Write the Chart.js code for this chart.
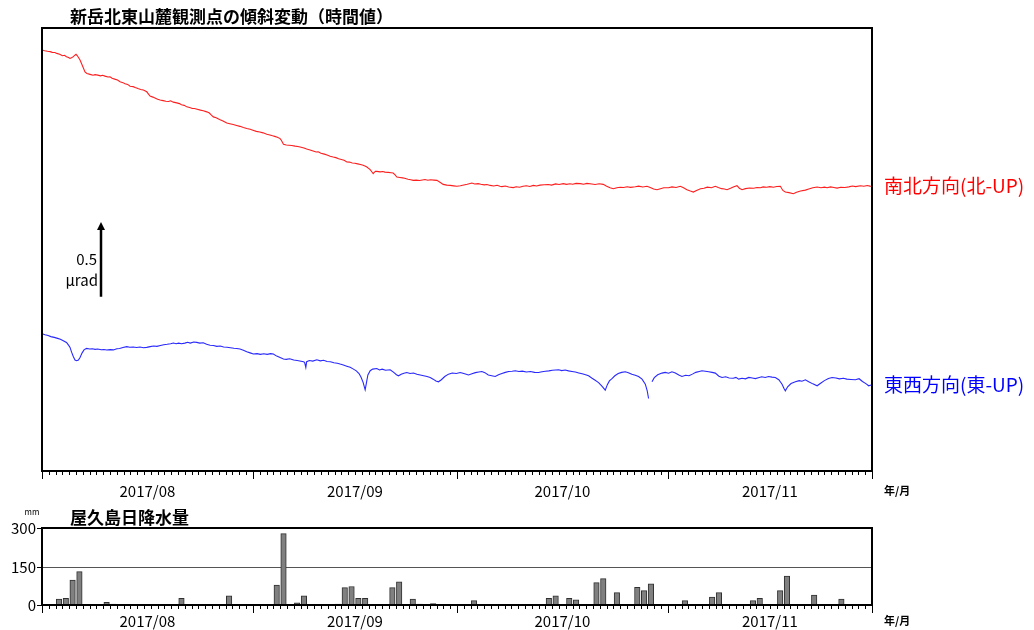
<!DOCTYPE html>
<html>
<head>
<meta charset="utf-8">
<script src="https://cdn.jsdelivr.net/npm/chart.js@4/dist/chart.umd.min.js"></script>
<style>
  body { margin: 0; background: #fff; }
  canvas { position: absolute; left: 0; }
  #tilt { top: 0; }
  #rain { top: 500px; }
</style>
</head>
<body>
<canvas id="tilt" width="1034" height="500"></canvas>
<canvas id="rain" width="1034" height="130"></canvas>
<script>
// x = days since 2017/08/01 00:00, y = tilt in micro-radian (relative)
const monthLabels = ['2017/08', '2017/09', '2017/10', '2017/11'];
const monthStarts = [0, 31, 61, 92, 122];

// 南北方向 [day, μrad]
const nsReadings = [
  [0, 2.851], [0.4, 2.846], [0.8, 2.842], [1.2, 2.840], [1.5, 2.835], [1.9, 2.834], [2.16, 2.828], [2.6, 2.822],
  [3.0, 2.812], [3.3, 2.815], [3.6, 2.805], [3.9, 2.800], [4.12, 2.794], [4.4, 2.800], [4.6, 2.806], [4.8, 2.815],
  [5.0, 2.822], [5.2, 2.812], [5.59, 2.783], [5.9, 2.750], [6.32, 2.703], [6.6, 2.692], [7.06, 2.686], [7.5, 2.680],
  [7.8, 2.684], [8.2, 2.681], [8.6, 2.676], [8.9, 2.680], [9.26, 2.674], [9.7, 2.668], [10.0, 2.670], [10.3, 2.660],
  [10.8, 2.652], [11.1, 2.648], [11.47, 2.636], [11.9, 2.630], [12.2, 2.622], [12.6, 2.618], [12.94, 2.606], [13.4, 2.603],
  [13.7, 2.597], [14.1, 2.590], [14.5, 2.584], [14.9, 2.580], [15.4, 2.568], [15.6, 2.556], [15.88, 2.539], [16.3, 2.532],
  [16.6, 2.526], [17.0, 2.518], [17.35, 2.512], [17.8, 2.508], [18.2, 2.504], [18.6, 2.502], [18.9, 2.507], [19.3, 2.498],
  [19.81, 2.493], [20.2, 2.488], [20.5, 2.480], [20.9, 2.476], [21.28, 2.466], [21.7, 2.462], [22.1, 2.455], [22.4, 2.455],
  [22.8, 2.450], [23.3, 2.444], [23.7, 2.440], [24.22, 2.432], [24.6, 2.424], [24.9, 2.410], [25.19, 2.398], [25.6, 2.392],
  [26.1, 2.380], [26.6, 2.370], [27.16, 2.357], [27.6, 2.352], [28.1, 2.346], [28.6, 2.340], [29.1, 2.334], [29.6, 2.326],
  [30.1, 2.319], [30.6, 2.314], [31.0, 2.308], [31.5, 2.300], [32.0, 2.296], [32.5, 2.290], [33.04, 2.281], [33.5, 2.276],
  [33.9, 2.270], [34.2, 2.266], [34.6, 2.260], [35.0, 2.251], [35.2, 2.238], [35.49, 2.213], [35.9, 2.208], [36.3, 2.206],
  [36.7, 2.204], [37.2, 2.200], [37.6, 2.198], [37.94, 2.194], [38.5, 2.188], [38.9, 2.180], [39.4, 2.174], [39.85, 2.167],
  [40.3, 2.160], [40.6, 2.162], [41.0, 2.152], [41.5, 2.146], [41.9, 2.140], [42.35, 2.131], [42.8, 2.126], [43.2, 2.122],
  [43.6, 2.115], [44.0, 2.110], [44.4, 2.104], [44.81, 2.093], [45.2, 2.092], [45.6, 2.086], [46.0, 2.084], [46.4, 2.080],
  [46.8, 2.076], [47.21, 2.070], [47.7, 2.060], [48.24, 2.041], [48.5, 2.025], [48.68, 2.014], [49.0, 2.030], [49.22, 2.029],
  [49.7, 2.026], [50.1, 2.028], [50.4, 2.024], [50.9, 2.022], [51.3, 2.020], [51.62, 2.018], [51.9, 2.005], [52.16, 1.991],
  [52.6, 1.988], [53.0, 1.985], [53.3, 1.982], [53.8, 1.976], [54.2, 1.972], [54.56, 1.968], [55.0, 1.970], [55.5, 1.967],
  [55.9, 1.971], [56.3, 1.974], [56.7, 1.969], [57.1, 1.972], [57.6, 1.970], [58.04, 1.968], [58.5, 1.955], [58.97, 1.941],
  [59.5, 1.936], [60.0, 1.934], [60.5, 1.931], [60.99, 1.928], [61.5, 1.932], [62.0, 1.937], [62.5, 1.942], [63.19, 1.950],
  [63.6, 1.944], [64.1, 1.946], [64.5, 1.942], [65.0, 1.938], [65.4, 1.940], [65.88, 1.934], [66.4, 1.930], [66.9, 1.935],
  [67.3, 1.928], [67.6, 1.926], [68.1, 1.930], [68.6, 1.923], [69.26, 1.919], [69.7, 1.925], [70.2, 1.922], [70.7, 1.928],
  [71.2, 1.932], [71.7, 1.927], [72.21, 1.934], [72.7, 1.930], [73.2, 1.936], [73.8, 1.938], [74.4, 1.940], [74.9, 1.936],
  [75.5, 1.944], [76.0, 1.940], [76.62, 1.946], [77.1, 1.941], [77.6, 1.945], [78.0, 1.942], [78.5, 1.948], [79.12, 1.946],
  [79.6, 1.942], [80.1, 1.948], [80.8, 1.944], [81.3, 1.940], [81.9, 1.945], [82.5, 1.941], [83.0, 1.928], [83.5, 1.918],
  [83.97, 1.912], [84.5, 1.918], [85.0, 1.922], [85.5, 1.920], [86.0, 1.925], [86.5, 1.921], [87.2, 1.925], [87.7, 1.929],
  [88.3, 1.923], [88.93, 1.928], [89.4, 1.920], [89.9, 1.910], [90.4, 1.905], [90.9, 1.912], [91.4, 1.918], [92.1, 1.918],
  [92.6, 1.924], [93.2, 1.920], [93.82, 1.928], [94.3, 1.918], [94.8, 1.905], [95.3, 1.896], [95.74, 1.889], [96.2, 1.900],
  [96.8, 1.912], [97.3, 1.915], [97.8, 1.922], [98.4, 1.918], [98.97, 1.928], [99.4, 1.920], [99.9, 1.912], [100.3, 1.910],
  [100.69, 1.905], [101.2, 1.914], [101.7, 1.925], [102.16, 1.932], [102.5, 1.915], [102.9, 1.905], [103.4, 1.912], [104.0, 1.916],
  [104.6, 1.915], [105.1, 1.920], [105.6, 1.918], [106.0, 1.924], [106.5, 1.922], [107.0, 1.926], [107.5, 1.922], [108.0, 1.927],
  [108.53, 1.928], [108.9, 1.900], [109.26, 1.889], [109.8, 1.885], [110.44, 1.878], [110.9, 1.888], [111.5, 1.896], [112.2, 1.902],
  [112.7, 1.910], [113.3, 1.918], [113.93, 1.923], [114.5, 1.918], [115.0, 1.922], [115.4, 1.918], [115.9, 1.924], [116.4, 1.920],
  [116.87, 1.916], [117.4, 1.922], [118.0, 1.920], [118.6, 1.924], [119.1, 1.930], [119.6, 1.926], [120.29, 1.932], [120.8, 1.928],
  [121.3, 1.933], [121.7, 1.929], [122, 1.928]
];

// 東西方向 [day, μrad]; null = missing hours
const ewReadings = [
  [0, 0.930], [0.44, 0.923], [0.9, 0.918], [1.3, 0.910], [1.8, 0.905], [2.3, 0.898], [2.7, 0.892], [3.13, 0.882],
  [3.6, 0.870], [3.9, 0.852], [4.12, 0.837], [4.35, 0.805], [4.6, 0.775], [4.85, 0.752], [5.1, 0.747], [5.35, 0.752],
  [5.59, 0.769], [5.9, 0.800], [6.2, 0.822], [6.57, 0.830], [7.0, 0.826], [7.4, 0.828], [7.8, 0.824], [8.2, 0.826],
  [8.7, 0.821], [9.1, 0.823], [9.51, 0.819], [10.0, 0.822], [10.5, 0.820], [11.0, 0.828], [11.4, 0.830], [11.9, 0.836],
  [12.46, 0.842], [12.9, 0.838], [13.4, 0.840], [13.9, 0.836], [14.4, 0.840], [14.9, 0.835], [15.4, 0.837], [15.9, 0.842],
  [16.4, 0.846], [16.9, 0.844], [17.4, 0.850], [17.9, 0.855], [18.4, 0.858], [18.9, 0.862], [19.31, 0.867], [19.7, 0.862],
  [20.1, 0.866], [20.5, 0.862], [21.0, 0.866], [21.4, 0.872], [21.8, 0.866], [22.3, 0.874], [22.75, 0.871], [23.2, 0.866],
  [23.7, 0.868], [24.2, 0.858], [24.7, 0.852], [25.2, 0.850], [25.69, 0.844], [26.2, 0.846], [26.7, 0.840], [27.2, 0.838],
  [27.7, 0.835], [28.2, 0.831], [28.63, 0.830], [29.1, 0.826], [29.6, 0.818], [30.1, 0.808], [30.6, 0.800], [31.07, 0.792],
  [31.6, 0.795], [32.1, 0.790], [32.6, 0.794], [33.1, 0.790], [33.6, 0.795], [34.01, 0.792], [34.5, 0.778], [35.0, 0.768],
  [35.49, 0.758], [35.9, 0.756], [36.4, 0.760], [37.0, 0.752], [37.5, 0.748], [37.9, 0.745], [38.43, 0.740], [38.6, 0.736],
  [38.78, 0.701], [38.9, 0.740], [39.3, 0.748], [39.8, 0.744], [40.4, 0.753], [40.9, 0.746], [41.4, 0.750], [41.9, 0.742],
  [42.4, 0.740], [42.9, 0.733], [43.4, 0.730], [43.82, 0.724], [44.3, 0.718], [44.8, 0.710], [45.3, 0.702], [45.78, 0.690],
  [46.2, 0.678], [46.6, 0.660], [46.9, 0.635], [47.2, 0.600], [47.5, 0.550], [47.7, 0.600], [47.9, 0.650], [48.24, 0.679],
  [48.6, 0.690], [49.22, 0.694], [49.6, 0.684], [50.0, 0.690], [50.5, 0.682], [51.18, 0.686], [51.7, 0.668], [52.1, 0.652],
  [52.4, 0.645], [52.8, 0.655], [53.2, 0.662], [53.63, 0.667], [54.1, 0.660], [54.6, 0.664], [55.1, 0.655], [55.6, 0.650],
  [56.1, 0.645], [56.6, 0.640], [57.06, 0.633], [57.5, 0.622], [57.9, 0.610], [58.28, 0.604], [58.7, 0.618], [59.2, 0.640],
  [59.75, 0.656], [60.3, 0.664], [60.9, 0.660], [61.47, 0.667], [62.0, 0.660], [62.69, 0.650], [63.2, 0.658], [63.7, 0.666],
  [64.2, 0.670], [64.66, 0.674], [65.1, 0.666], [65.6, 0.650], [66.1, 0.645], [66.62, 0.640], [67.1, 0.652], [67.6, 0.660],
  [68.1, 0.668], [68.6, 0.674], [69.1, 0.676], [69.56, 0.679], [70.1, 0.674], [70.6, 0.676], [71.2, 0.670], [71.8, 0.674],
  [72.4, 0.668], [72.99, 0.667], [73.5, 0.672], [74.0, 0.676], [74.5, 0.678], [75.0, 0.682], [75.5, 0.684], [75.93, 0.686],
  [76.4, 0.680], [76.9, 0.684], [77.4, 0.678], [77.9, 0.674], [78.4, 0.670], [78.9, 0.664], [79.4, 0.658], [79.9, 0.652],
  [80.34, 0.645], [80.8, 0.630], [81.2, 0.618], [81.81, 0.599], [82.3, 0.575], [82.79, 0.548], [83.1, 0.585], [83.4, 0.610],
  [83.78, 0.626], [84.2, 0.645], [84.7, 0.660], [85.2, 0.668], [85.74, 0.672], [86.2, 0.666], [86.7, 0.655], [87.2, 0.648],
  [87.69, 0.640], [88.2, 0.622], [88.68, 0.588], [88.95, 0.545], [89.16, 0.491], [89.4, null], [89.66, 0.604], [90.0, 0.632],
  [90.5, 0.652], [91.13, 0.663], [91.6, 0.668], [92.1, 0.662], [92.6, 0.672], [93.1, 0.664], [93.6, 0.650], [94.07, 0.640],
  [94.6, 0.648], [95.1, 0.645], [95.6, 0.656], [96.1, 0.668], [96.6, 0.674], [97.01, 0.679], [97.5, 0.676], [98.0, 0.672],
  [98.5, 0.668], [98.97, 0.663], [99.5, 0.642], [99.96, 0.633], [100.5, 0.638], [101.0, 0.630], [101.6, 0.628], [102.0, 0.634],
  [102.4, 0.622], [102.9, 0.628], [103.4, 0.624], [103.9, 0.634], [104.4, 0.630], [104.85, 0.626], [105.3, 0.632], [105.8, 0.638],
  [106.3, 0.633], [106.8, 0.640], [107.3, 0.636], [107.79, 0.633], [108.3, 0.618], [108.78, 0.588], [109.05, 0.560], [109.26, 0.543],
  [109.6, 0.570], [110.1, 0.592], [110.74, 0.604], [111.3, 0.612], [111.7, 0.608], [112.21, 0.618], [112.7, 0.605], [113.3, 0.590],
  [113.93, 0.577], [114.5, 0.596], [115.0, 0.612], [115.6, 0.626], [116.13, 0.633], [116.7, 0.630], [117.2, 0.624], [117.8, 0.628],
  [118.3, 0.622], [118.9, 0.620], [119.56, 0.618], [120.1, 0.625], [120.6, 0.606], [121.1, 0.592], [121.51, 0.577], [122, 0.584]
];

// daily rainfall at Yakushima (mm), 2017/08/01 .. 2017/11/30
const rainMm = [
  0, 0, 23, 26, 97, 130, 0, 0, 0, 10, 4, 0, 0, 0, 0, 0, 0, 0, 0, 0, 26, 0, 0, 0, 0, 0, 0, 36, 0, 0, 0,
  0, 0, 0, 78, 278, 0, 8, 36, 0, 0, 0, 0, 4, 68, 72, 26, 26, 0, 0, 0, 68, 90, 0, 23, 4, 0, 6, 0, 0,
  0, 0, 0, 17, 0, 0, 0, 0, 0, 0, 0, 0, 0, 0, 26, 36, 0, 26, 20, 0, 3, 87, 103, 0, 48, 0, 0, 69, 56, 82, 0,
  0, 0, 0, 17, 0, 0, 0, 31, 48, 0, 0, 0, 0, 17, 26, 0, 0, 56, 113, 0, 0, 0, 39, 0, 0, 0, 23, 0, 0, 0, 0
];
const rainTicks = [0, 150, 300];

const jpFont = '"Noto Sans CJK JP", "Noto Sans", sans-serif';

function drawTimeAxis(chart, labelY, unitY) {
  const ctx = chart.ctx;
  const x = chart.scales.x;
  const a = chart.chartArea;
  ctx.save();
  ctx.strokeStyle = '#000';
  ctx.lineWidth = 1;
  ctx.beginPath();
  for (let d = 0; d <= 122; d++) {
    const px = Math.round(x.getPixelForValue(d)) + 0.5;
    const major = monthStarts.includes(d);
    ctx.moveTo(px, a.bottom);
    ctx.lineTo(px, a.bottom + (major ? 8 : 4));
  }
  ctx.stroke();
  ctx.fillStyle = '#000';
  ctx.font = '15px ' + jpFont;
  ctx.textAlign = 'center';
  ctx.textBaseline = 'middle';
  monthLabels.forEach((m, i) => {
    const mid = (monthStarts[i] + monthStarts[i + 1]) / 2;
    ctx.fillText(m, x.getPixelForValue(mid), labelY);
  });
  ctx.font = 'bold 11px ' + jpFont;
  ctx.textAlign = 'left';
  ctx.fillText('年/月', a.right + 12, unitY);
  ctx.restore();
}

function drawFrame(chart) {
  const ctx = chart.ctx;
  const a = chart.chartArea;
  ctx.save();
  ctx.strokeStyle = '#000';
  ctx.lineWidth = 2;
  ctx.strokeRect(a.left, a.top, a.right - a.left, a.bottom - a.top);
  ctx.restore();
}

const tiltDecor = {
  id: 'tiltDecor',
  afterDraw(chart) {
    const ctx = chart.ctx;
    const a = chart.chartArea;
    const y = chart.scales.y;
    drawFrame(chart);
    drawTimeAxis(chart, 491, 491);
    ctx.save();
    ctx.fillStyle = '#000';
    ctx.font = 'bold 17px ' + jpFont;
    ctx.textBaseline = 'middle';
    ctx.textAlign = 'left';
    ctx.fillText('新岳北東山麓観測点の傾斜変動（時間値）', 70, 17);

    ctx.font = '19px ' + jpFont;
    ctx.fillStyle = '#ff0000';
    ctx.fillText('南北方向(北-UP)', a.right + 12, 186);
    ctx.fillStyle = '#0000ff';
    ctx.fillText('東西方向(東-UP)', a.right + 12, 385);

    // 0.5 micro-radian scale bar
    const bx = a.left + 59;
    const y0 = y.getPixelForValue(1.18);
    const y1 = y.getPixelForValue(1.68);
    ctx.strokeStyle = '#000';
    ctx.lineWidth = 2.5;
    ctx.beginPath();
    ctx.moveTo(bx, y0);
    ctx.lineTo(bx, y1 + 5);
    ctx.stroke();
    ctx.fillStyle = '#000';
    ctx.beginPath();
    ctx.moveTo(bx, y1 - 1);
    ctx.lineTo(bx - 4, y1 + 7);
    ctx.lineTo(bx + 4, y1 + 7);
    ctx.closePath();
    ctx.fill();
    ctx.font = '15px ' + jpFont;
    ctx.textAlign = 'right';
    ctx.fillText('0.5', bx - 4, 259);
    ctx.fillText('μrad', bx - 3, 280);
    ctx.restore();
  }
};

const rainDecor = {
  id: 'rainDecor',
  beforeDatasetsDraw(chart) {
    const ctx = chart.ctx;
    const a = chart.chartArea;
    const py = Math.round(chart.scales.y.getPixelForValue(150)) + 0.5;
    ctx.save();
    ctx.strokeStyle = '#555';
    ctx.lineWidth = 1;
    ctx.beginPath();
    ctx.moveTo(a.left, py);
    ctx.lineTo(a.right, py);
    ctx.stroke();
    ctx.restore();
  },
  afterDraw(chart) {
    const ctx = chart.ctx;
    const a = chart.chartArea;
    const y = chart.scales.y;
    drawFrame(chart);
    drawTimeAxis(chart, 121, 121);
    ctx.save();
    ctx.fillStyle = '#000';
    ctx.strokeStyle = '#000';
    ctx.lineWidth = 1;
    ctx.font = '15px ' + jpFont;
    ctx.textAlign = 'right';
    ctx.textBaseline = 'middle';
    rainTicks.forEach(t => {
      const py = Math.round(y.getPixelForValue(t)) + 0.5;
      ctx.beginPath();
      ctx.moveTo(a.left - 5, py);
      ctx.lineTo(a.left, py);
      ctx.stroke();
      ctx.fillText(String(t), a.left - 6, py);
    });
    ctx.font = '8px ' + jpFont;
    ctx.textAlign = 'center';
    ctx.fillText('mm', 32, 12);
    ctx.font = 'bold 17px ' + jpFont;
    ctx.textAlign = 'left';
    ctx.fillText('屋久島日降水量', 70, 18);
    ctx.restore();
  }
};

new Chart(document.getElementById('tilt'), {
  type: 'line',
  data: {
    datasets: [{
      label: '南北方向(北-UP)',
      data: nsReadings.map(r => ({ x: r[0], y: r[1] })),
      borderColor: 'rgb(255, 30, 30)',
      borderWidth: 1.1,
      pointRadius: 0,
      tension: 0
    }, {
      label: '東西方向(東-UP)',
      data: ewReadings.map(r => ({ x: r[0], y: r[1] })),
      borderColor: 'rgb(40, 40, 255)',
      borderWidth: 1.1,
      pointRadius: 0,
      tension: 0,
      spanGaps: false
    }]
  },
  options: {
    responsive: false,
    animation: false,
    events: [],
    layout: { padding: { left: 42, right: 162, top: 28, bottom: 29 } },
    plugins: { legend: { display: false }, tooltip: { enabled: false } },
    scales: {
      x: { type: 'linear', min: 0, max: 122, display: false },
      y: { type: 'linear', min: 0, max: 3, display: false }
    }
  },
  plugins: [tiltDecor]
});

new Chart(document.getElementById('rain'), {
  type: 'bar',
  data: {
    datasets: [{
      label: '屋久島日降水量',
      data: rainMm.map((v, i) => ({ x: i + 0.5, y: v })).filter(p => p.y > 0),
      backgroundColor: '#808080',
      borderColor: '#303030',
      borderWidth: 1,
      borderSkipped: 'bottom',
      barThickness: 5.5
    }]
  },
  options: {
    responsive: false,
    animation: false,
    events: [],
    layout: { padding: { left: 42, right: 162, top: 28, bottom: 25 } },
    plugins: { legend: { display: false }, tooltip: { enabled: false } },
    scales: {
      x: { type: 'linear', min: 0, max: 122, offset: false, display: false },
      y: { type: 'linear', min: 0, max: 300, display: false }
    }
  },
  plugins: [rainDecor]
});
</script>
</body>
</html>
